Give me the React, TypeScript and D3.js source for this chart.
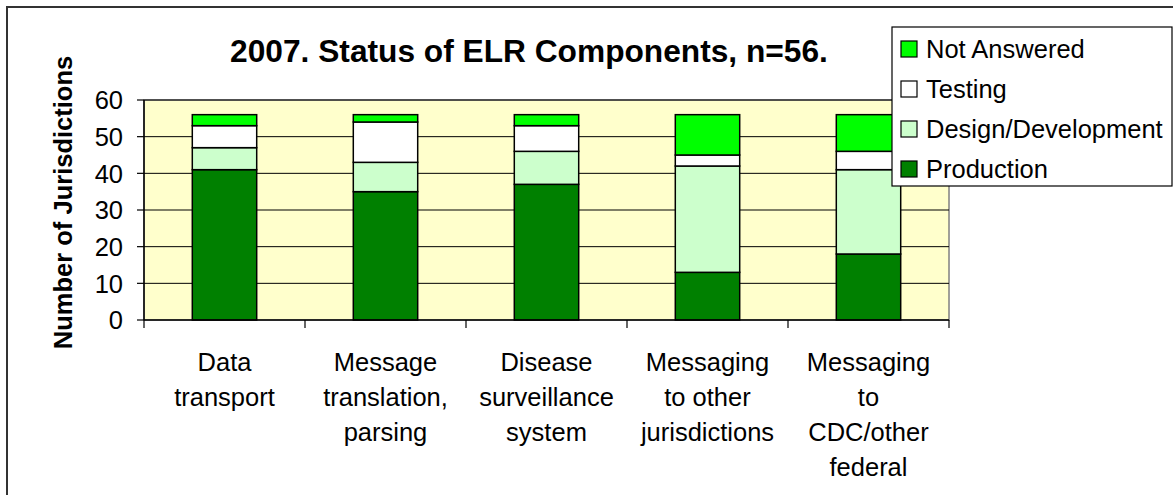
import React from "react";
import * as d3 from "d3";

const width = 1173;
const height = 495;
const plot = { left: 144, right: 949, top: 100, bottom: 320 };
const font = "Arial, 'Liberation Sans', sans-serif";

const categories = [
  ["Data", "transport"],
  ["Message", "translation,", "parsing"],
  ["Disease", "surveillance", "system"],
  ["Messaging", "to other", "jurisdictions"],
  ["Messaging", "to", "CDC/other", "federal"],
];
const seriesNames = ["Production", "Design/Development", "Testing", "Not Answered"];
const seriesColors = ["#008000", "#CCFFCC", "#FFFFFF", "#00FF00"];
const production = [41, 35, 37, 13, 18];
const design = [6, 8, 9, 29, 23];
const testing = [6, 11, 7, 3, 5];
const notAnswered = [3, 2, 3, 11, 10];
const yTicks = [0, 10, 20, 30, 40, 50, 60];
const title = "2007. Status of ELR Components, n=56.";
const yLabel = "Number of Jurisdictions";

const App = () => {
  const keys = categories.map((c) => c.join(" "));
  const rows = keys.map((k, i) => ({
    key: k,
    [seriesNames[0]]: production[i],
    [seriesNames[1]]: design[i],
    [seriesNames[2]]: testing[i],
    [seriesNames[3]]: notAnswered[i],
  }));
  const stacked = d3.stack().keys(seriesNames)(rows as any);

  const x = d3
    .scaleBand()
    .domain(keys)
    .range([plot.left, plot.right])
    .paddingInner(0.6)
    .paddingOuter(0.3);
  const y = d3.scaleLinear().domain([0, 60]).range([plot.bottom, plot.top]);
  const step = x.step();

  return (
    <svg
      width={width}
      height={height}
      style={{ position: "absolute", left: 0, top: 0, background: "#fff" }}
      fontFamily={font}
    >
      <rect x={7} y={7} width={1200} height={520} fill="#fff" stroke="#333" strokeWidth={2} />

      {/* plot area */}
      <rect
        x={plot.left}
        y={plot.top}
        width={plot.right - plot.left}
        height={plot.bottom - plot.top}
        fill="#FFFFCC"
        stroke="#808080"
        strokeWidth={1.5}
      />
      {yTicks.slice(1).map((t) => (
        <line key={t} x1={plot.left} x2={plot.right} y1={y(t)} y2={y(t)} stroke="#000" strokeWidth={1} />
      ))}

      {/* bars */}
      {stacked.map((s, si) =>
        s.map((d, i) => (
          <rect
            key={`${si}_${i}`}
            x={x(keys[i])}
            y={y(d[1])}
            width={x.bandwidth()}
            height={y(d[0]) - y(d[1])}
            fill={seriesColors[si]}
            stroke="#000"
            strokeWidth={1.5}
          />
        ))
      )}

      {/* axes */}
      <line x1={plot.left} x2={plot.left} y1={plot.top} y2={plot.bottom} stroke="#000" strokeWidth={1.5} />
      <line x1={plot.left} x2={plot.right} y1={plot.bottom} y2={plot.bottom} stroke="#000" strokeWidth={1.5} />
      {yTicks.map((t) => (
        <g key={t}>
          <line x1={plot.left - 7} x2={plot.left} y1={y(t)} y2={y(t)} stroke="#000" strokeWidth={1.2} />
          <text x={123} y={y(t)} dy="0.36em" textAnchor="end" fontSize={25.5} fill="#000">
            {t}
          </text>
        </g>
      ))}
      {keys.map((k) => (
        <line
          key={k}
          x1={x(k)! - step * 0.3}
          x2={x(k)! - step * 0.3}
          y1={plot.bottom}
          y2={plot.bottom + 8}
          stroke="#000"
          strokeWidth={1.2}
        />
      ))}
      <line x1={plot.right} x2={plot.right} y1={plot.bottom} y2={plot.bottom + 8} stroke="#000" strokeWidth={1.2} />

      {categories.map((lines, i) => (
        <text
          key={keys[i]}
          x={x(keys[i])! + x.bandwidth() / 2}
          y={371}
          textAnchor="middle"
          fontSize={25.5}
          fill="#000"
        >
          {lines.map((l, j) => (
            <tspan key={j} x={x(keys[i])! + x.bandwidth() / 2} dy={j === 0 ? 0 : 35}>
              {l}
            </tspan>
          ))}
        </text>
      ))}

      {/* titles */}
      <text x={529} y={62} textAnchor="middle" fontSize={31.7} fontWeight="bold" fill="#000">
        {title}
      </text>
      <text
        transform={`translate(72 ${(55 + 350) / 2}) rotate(-90)`}
        textAnchor="middle"
        fontSize={25.5}
        fontWeight="bold"
        fill="#000"
      >
        {yLabel}
      </text>

      {/* legend */}
      <rect x={892} y={27} width={280} height={159} fill="#fff" stroke="#000" strokeWidth={1.2} />
      {seriesNames
        .map((n, i) => ({ n, c: seriesColors[i] }))
        .reverse()
        .map((d, i) => (
          <g key={d.n}>
            <rect x={901} y={41 + i * 40} width={16} height={16} fill={d.c} stroke="#000" strokeWidth={1.2} />
            <text x={926} y={58 + i * 40} fontSize={25.5} fill="#000">
              {d.n}
            </text>
          </g>
        ))}
    </svg>
  );
};

export default App;
